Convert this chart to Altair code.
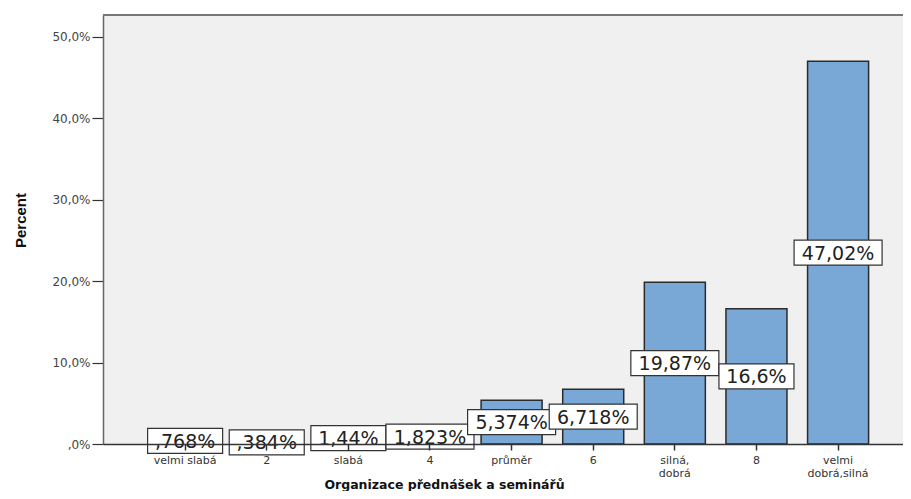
import altair as alt
import pandas as pd

categories = ["velmi slabá", "2", "slabá", "4", "průměr", "6",
              "silná,\ndobrá", "8", "velmi\ndobrá,silná"]
percents = [0.768, 0.384, 1.44, 1.823, 5.374, 6.718, 19.87, 16.6, 47.02]
value_labels = [",768%", ",384%", "1,44%", "1,823%", "5,374%", "6,718%",
                "19,87%", "16,6%", "47,02%"]
y_ticks = [0, 10, 20, 30, 40, 50]

df = pd.DataFrame({"cat": categories, "pct": percents, "lab": value_labels})

W, H = 800, 429
YMAX = 52.7
BOX_H_PX = 25
box_half = BOX_H_PX / 2 / (H / YMAX)

xscale = alt.Scale(domain=categories, paddingInner=0.2525, paddingOuter=0.527, align=0.6)
yscale = alt.Scale(domain=[0, YMAX], nice=False, zero=True)

x_enc = alt.X("cat:N", sort=categories, scale=xscale,
              axis=alt.Axis(title="Organizace přednášek a seminářů",
                            labelAngle=0,
                            labelExpr="split(datum.label, '\\n')",
                            labelFont="DejaVu Sans", labelFontSize=11,
                            labelColor="#333333", labelPadding=4,
                            labelLineHeight=13,
                            tickSize=6, tickColor="#333333", tickWidth=1.5,
                            domainColor="#333333", domainWidth=1.5,
                            titleFont="DejaVu Sans", titleFontSize=12.5,
                            titleFontWeight="bold", titleColor="#111111",
                            titleX=341, titleY=40, titleAlign="center",
                            titleBaseline="middle", zindex=1))

y_axis = alt.Axis(title="Percent", values=y_ticks, grid=False,
                  labelExpr="datum.value == 0 ? ',0%' : replace(format(datum.value, '.1f'), '.', ',') + '%'",
                  labelFont="DejaVu Sans", labelFontSize=12,
                  labelColor="#444444", labelPadding=2,
                  tickSize=11, tickColor="#333333", tickWidth=1.2,
                  domainColor="#666666", domainWidth=1.5,
                  titleFont="Liberation Sans", titleFontSize=15,
                  titleFontWeight="bold", titleColor="#111111",
                  titleAngle=270, titleX=-83, titleY=205,
                  titleAlign="center", titleBaseline="middle")

base = alt.Chart(df)

bars = base.mark_bar(fill="#7aa8d6", stroke="#2b2b2b", strokeWidth=1.5).encode(
    x=x_enc,
    y=alt.Y("pct:Q", scale=yscale, axis=y_axis),
)

boxes = base.transform_calculate(
    y0=f"datum.pct / 2 - {box_half}",
    y1=f"datum.pct / 2 + {box_half}",
    w="length(datum.lab) * 13 + 10",
).mark_bar(fill="white", stroke="#333333", strokeWidth=1.2).encode(
    x=alt.X("cat:N", sort=categories, scale=xscale),
    y=alt.Y("y0:Q", scale=yscale),
    y2="y1:Q",
    size=alt.Size("w:Q", scale=None, legend=None),
)

texts = base.transform_calculate(
    ymid="datum.pct / 2"
).mark_text(font="DejaVu Sans", fontSize=19, color="#222222",
            baseline="middle", align="center", dy=1).encode(
    x=alt.X("cat:N", sort=categories, scale=xscale),
    y=alt.Y("ymid:Q", scale=yscale),
    text="lab:N",
)

top_border = alt.Chart(df).mark_rule(color="#777777", strokeWidth=1.5).encode(
    x=alt.value(0), x2=alt.value(W), y=alt.value(0)
)

chart = alt.layer(bars, boxes, texts, top_border).properties(
    width=W, height=H,
    autosize=alt.AutoSizeParams(type="none"),
    padding={"left": 95, "top": 7, "right": 0, "bottom": 47},
    background="white",
).configure_view(fill="#f0f0f0", stroke=None)

chart.save("out.html", embed_options={"renderer": "svg", "actions": False})
